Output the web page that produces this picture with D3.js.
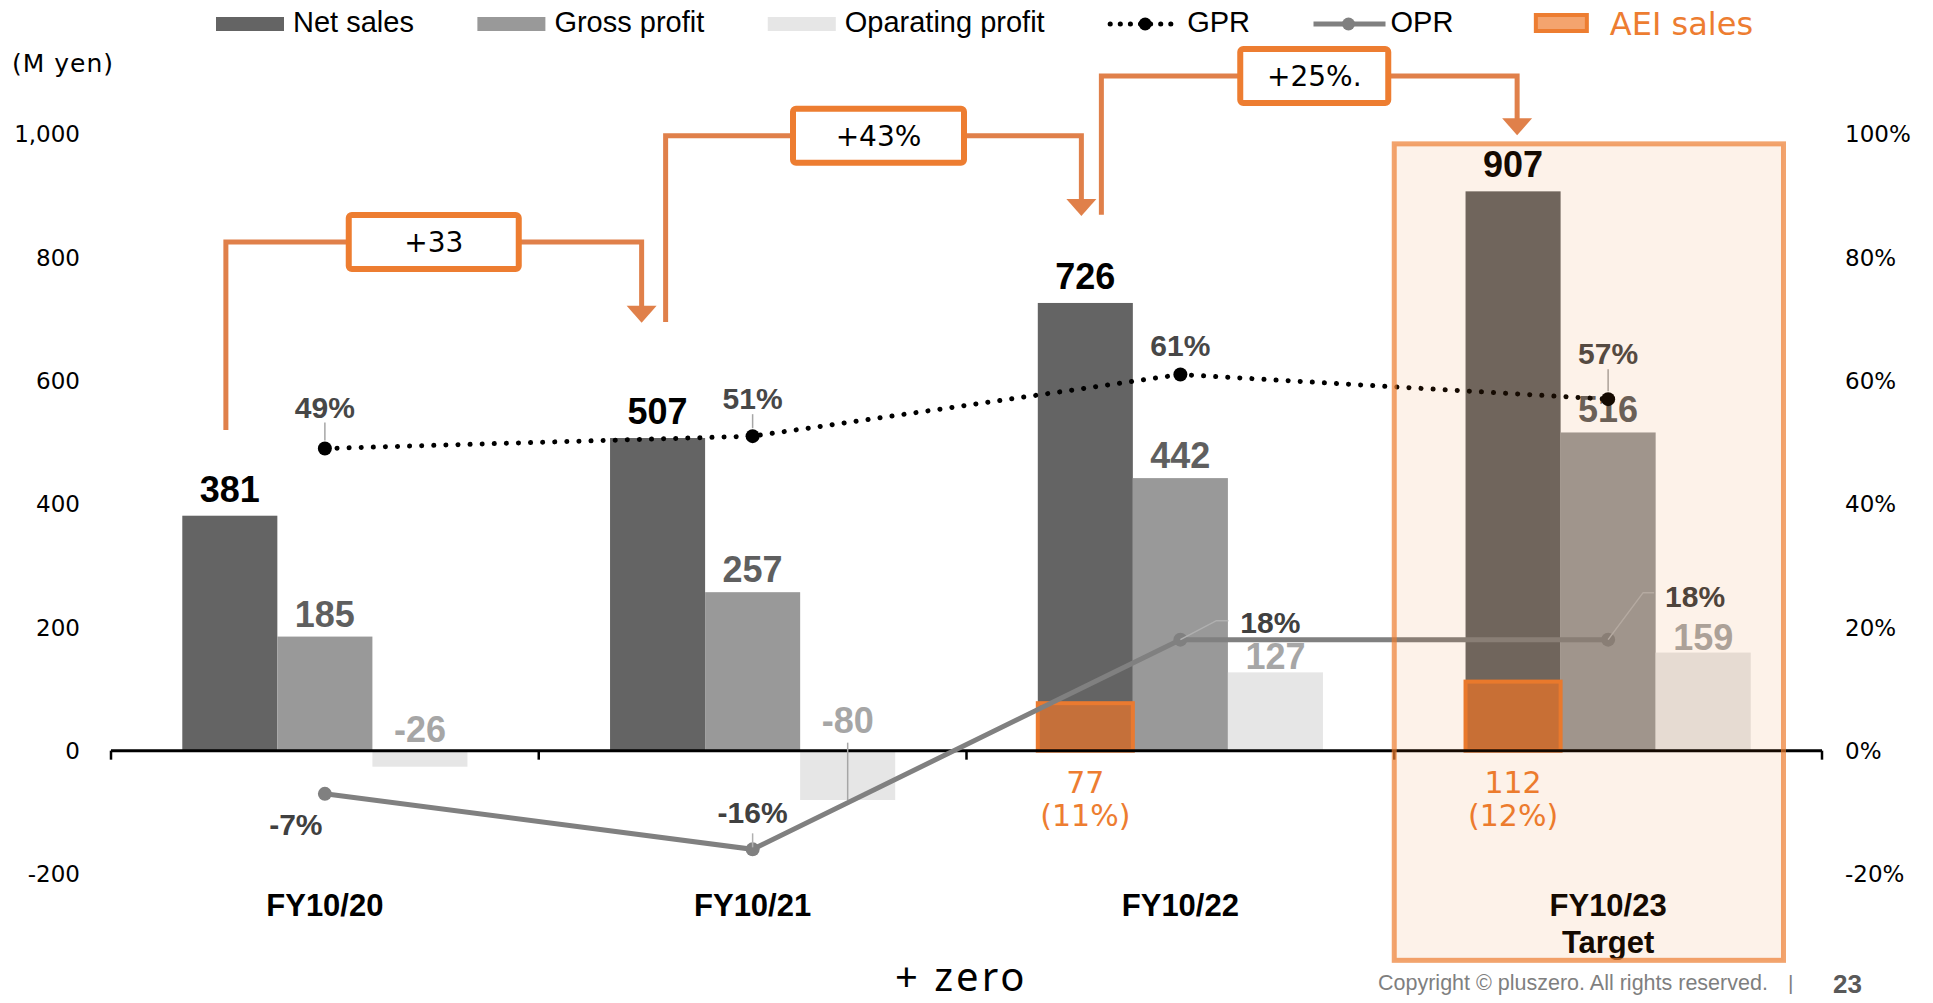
<!DOCTYPE html>
<html>
<head>
<meta charset="utf-8">
<script src="https://cdn.jsdelivr.net/npm/d3@7"></script>
<style>
	body { margin: 0; background: #fff; }
	svg { display: block; }
	text { font-family: "Liberation Sans", Arial, sans-serif; }
</style>
</head>
<body>
<div id="chart"></div>
<script>
///////////////////////////////////////////////////////////////////////////
//////////////////////////// data /////////////////////////////////////////
///////////////////////////////////////////////////////////////////////////

const categories = ["FY10/20", "FY10/21", "FY10/22", "FY10/23"];
const subLabels = ["", "", "", "Target"];
const netSales = [381, 507, 726, 907];
const grossProfit = [185, 257, 442, 516];
const opProfit = [-26, -80, 127, 159];
const gpr = [0.49, 0.51, 0.61, 0.57];
const opr = [-0.07, -0.16, 0.18, 0.18];
const aeiSales = [null, null, 77, 112];
const aeiShare = [null, null, 0.11, 0.12];
const growthLabels = ["+33", "+43%", "+25%."];
const leftTicks = [-200, 0, 200, 400, 600, 800, 1000];
const rightTicks = [-0.2, 0, 0.2, 0.4, 0.6, 0.8, 1.0];
const seriesNames = ["Net sales", "Gross profit", "Oparating profit"];

///////////////////////////////////////////////////////////////////////////
//////////////////////////// set up svg ///////////////////////////////////
///////////////////////////////////////////////////////////////////////////

const width = 1933;
const height = 1003;
const orange = "#ED7D31";
const bracketColor = "#E0804A";
const barColors = ["#646464", "#999999", "#E6E6E6"];
const labelColors = ["#000000", "#5F5F5F", "#A6A6A6"];
const fmtPct = (d) => d3.format(".0%")(d).replace("−", "-");
const fmtNum = (d) => d3.format(",")(d).replace("−", "-");

const svg = d3
	.select("#chart")
	.append("svg")
	.attr("width", width)
	.attr("height", height);

///////////////////////////////////////////////////////////////////////////
//////////////////////////// scales ///////////////////////////////////////
///////////////////////////////////////////////////////////////////////////

const xScale = d3.scaleBand().domain(categories).range([111, 1822]).padding(0);
const xInner = d3
	.scaleBand()
	.domain(seriesNames)
	.range([0, xScale.bandwidth()])
	.paddingInner(0)
	.paddingOuter(0.75);
const yScale = d3.scaleLinear().domain([-200, 1000]).range([874, 134]);
const yPct = d3.scaleLinear().domain([-0.2, 1.0]).range([874, 134]);

const cx = (c) => xScale(c) + xScale.bandwidth() / 2;
const barX = (c, s) => xScale(c) + xInner(s);
const barMid = (c, s) => barX(c, s) + xInner.bandwidth() / 2;

const rows = categories.map((c, i) => ({
	cat: c,
	sub: subLabels[i],
	values: [netSales[i], grossProfit[i], opProfit[i]],
	gpr: gpr[i],
	opr: opr[i],
	aei: aeiSales[i],
	aeiShare: aeiShare[i]
}));

///////////////////////////////////////////////////////////////////////////
//////////////////////////// axes /////////////////////////////////////////
///////////////////////////////////////////////////////////////////////////

svg
	.append("text")
	.attr("x", 12)
	.attr("y", 72)
	.style("font-family", "'DejaVu Sans', Verdana, sans-serif")
	.style("font-size", "25px")
	.style("letter-spacing", "1px")
	.attr("fill", "#000")
	.text("(M yen)");

svg
	.append("g")
	.selectAll("text")
	.data(leftTicks)
	.join("text")
	.attr("x", 80)
	.attr("y", (d) => yScale(d))
	.attr("dy", "0.36em")
	.attr("text-anchor", "end")
	.style("font-family", "'DejaVu Sans', Verdana, sans-serif")
	.style("font-size", "23px")
	.text(fmtNum);

svg
	.append("g")
	.selectAll("text")
	.data(rightTicks)
	.join("text")
	.attr("x", 1845)
	.attr("y", (d) => yPct(d))
	.attr("dy", "0.36em")
	.style("font-family", "'DejaVu Sans', Verdana, sans-serif")
	.style("font-size", "23px")
	.text(fmtPct);

///////////////////////////////////////////////////////////////////////////
//////////////////////////// bars /////////////////////////////////////////
///////////////////////////////////////////////////////////////////////////

const barData = rows.flatMap((r) =>
	r.values.map((v, k) => ({ cat: r.cat, s: seriesNames[k], k: k, v: v }))
);

svg
	.append("g")
	.selectAll("rect")
	.data(barData)
	.join("rect")
	.attr("x", (d) => barX(d.cat, d.s))
	.attr("width", xInner.bandwidth())
	.attr("y", (d) => Math.min(yScale(d.v), yScale(0)))
	.attr("height", (d) => Math.abs(yScale(d.v) - yScale(0)))
	.attr("fill", (d) => barColors[d.k]);

// AEI sales inside net sales bar
const aeiRows = rows.filter((r) => r.aei != null);
svg
	.append("g")
	.selectAll("rect")
	.data(aeiRows)
	.join("rect")
	.attr("x", (d) => barX(d.cat, seriesNames[0]))
	.attr("width", xInner.bandwidth())
	.attr("y", (d) => yScale(d.aei))
	.attr("height", (d) => yScale(0) - yScale(d.aei))
	.attr("fill", "#C5703A")
	.attr("stroke", "#EA7A30")
	.attr("stroke-width", 4);

// zero line and ticks
svg
	.append("line")
	.attr("x1", xScale.range()[0])
	.attr("x2", xScale.range()[1])
	.attr("y1", yScale(0))
	.attr("y2", yScale(0))
	.attr("stroke", "#000")
	.attr("stroke-width", 3);

const tickXs = categories.map((c) => xScale(c)).concat([xScale.range()[1]]);
svg
	.append("g")
	.selectAll("line")
	.data(tickXs)
	.join("line")
	.attr("x1", (d) => d)
	.attr("x2", (d) => d)
	.attr("y1", yScale(0))
	.attr("y2", yScale(0) + 9)
	.attr("stroke", "#000")
	.attr("stroke-width", 2.5);

///////////////////////////////////////////////////////////////////////////
//////////////////////////// bar labels ///////////////////////////////////
///////////////////////////////////////////////////////////////////////////

const labelGap = [14, 10, 3];
barData.forEach((d) => {
	const x = barMid(d.cat, d.s);
	let y = d.v >= 0 ? yScale(d.v) - labelGap[d.k] : yScale(0) - 9;
	if (d.v < -50) {
		y = yScale(0) - 18;
		svg
			.append("line")
			.attr("x1", x)
			.attr("x2", x)
			.attr("y1", y + 10)
			.attr("y2", yScale(d.v))
			.attr("stroke", "#A6A6A6")
			.attr("stroke-width", 1.5);
	}
	svg
		.append("text")
		.attr("x", x)
		.attr("y", y)
		.attr("text-anchor", "middle")
		.style("font-size", "36px")
		.style("font-weight", "bold")
		.attr("fill", labelColors[d.k])
		.text(d.v);
});

// AEI labels
aeiRows.forEach((d) => {
	const g = svg
		.append("text")
		.attr("text-anchor", "middle")
		.style("font-family", "'DejaVu Sans', Verdana, sans-serif")
		.style("font-size", "30px")
		.attr("fill", orange);
	g.append("tspan")
		.attr("x", barMid(d.cat, seriesNames[0]))
		.attr("y", yScale(0) + 42)
		.text(d.aei);
	g.append("tspan")
		.attr("x", barMid(d.cat, seriesNames[0]))
		.attr("y", yScale(0) + 75)
		.text("(" + fmtPct(d.aeiShare) + ")");
});

///////////////////////////////////////////////////////////////////////////
//////////////////////////// lines ////////////////////////////////////////
///////////////////////////////////////////////////////////////////////////

const oprLine = d3
	.line()
	.x((d) => cx(d.cat))
	.y((d) => yPct(d.opr));

svg
	.append("path")
	.datum(rows)
	.attr("d", oprLine)
	.attr("fill", "none")
	.attr("stroke", "#808080")
	.attr("stroke-width", 5);

svg
	.append("g")
	.selectAll("circle")
	.data(rows)
	.join("circle")
	.attr("cx", (d) => cx(d.cat))
	.attr("cy", (d) => yPct(d.opr))
	.attr("r", 7)
	.attr("fill", "#808080");

const gprLine = d3
	.line()
	.x((d) => cx(d.cat))
	.y((d) => yPct(d.gpr));

svg
	.append("path")
	.datum(rows)
	.attr("d", gprLine)
	.attr("fill", "none")
	.attr("stroke", "#000")
	.attr("stroke-width", 5)
	.attr("stroke-linecap", "round")
	.attr("stroke-dasharray", "0.1 12");

svg
	.append("g")
	.selectAll("circle")
	.data(rows)
	.join("circle")
	.attr("cx", (d) => cx(d.cat))
	.attr("cy", (d) => yPct(d.gpr))
	.attr("r", 7)
	.attr("fill", "#000");

// GPR labels with little leaders
const gprLabelDy = [-31, -27, -19, -35];
rows.forEach((d, i) => {
	const x = cx(d.cat);
	const y = yPct(d.gpr);
	const dy = gprLabelDy[i];
	if (dy < -24) {
		svg
			.append("line")
			.attr("x1", x)
			.attr("x2", x)
			.attr("y1", y + dy + 5)
			.attr("y2", y - 8)
			.attr("stroke", "#A6A6A6")
			.attr("stroke-width", 1.5);
	}
	svg
		.append("text")
		.attr("x", x)
		.attr("y", y + dy)
		.attr("text-anchor", "middle")
		.style("font-size", "30px")
		.style("font-weight", "bold")
		.attr("fill", "#474747")
		.text(fmtPct(d.gpr));
});

// OPR labels
const oprLabelPos = [
	{ dx: -29, dy: 41, leader: null },
	{ dx: 0, dy: -26, leader: [[0, -16], [0, -2]] },
	{ dx: 90, dy: -7, leader: [[0, 0], [36, -19], [48, -19]] },
	{ dx: 87, dy: -33, leader: [[0, 0], [35, -47], [46, -47]] }
];
rows.forEach((d, i) => {
	const x = cx(d.cat);
	const y = yPct(d.opr);
	const p = oprLabelPos[i];
	if (p.leader) {
		svg
			.append("path")
			.attr("d", d3.line()(p.leader.map((q) => [x + q[0], y + q[1]])))
			.attr("fill", "none")
			.attr("stroke", "#B0B0B0")
			.attr("stroke-width", 1.5);
	}
	svg
		.append("text")
		.attr("x", x + p.dx)
		.attr("y", y + p.dy)
		.attr("text-anchor", "middle")
		.style("font-size", "30px")
		.style("font-weight", "bold")
		.attr("fill", "#404040")
		.text(fmtPct(d.opr));
});

///////////////////////////////////////////////////////////////////////////
//////////////////////////// category labels //////////////////////////////
///////////////////////////////////////////////////////////////////////////

const catLabels = svg
	.append("g")
	.selectAll("text")
	.data(rows)
	.join("text")
	.attr("text-anchor", "middle")
	.style("font-size", "31px")
	.style("font-weight", "bold");
catLabels
	.append("tspan")
	.attr("x", (d) => cx(d.cat))
	.attr("y", yScale(-200) + 42)
	.text((d) => d.cat);
catLabels
	.append("tspan")
	.attr("x", (d) => cx(d.cat))
	.attr("y", yScale(-200) + 79)
	.text((d) => d.sub);

///////////////////////////////////////////////////////////////////////////
//////////////////////////// growth brackets //////////////////////////////
///////////////////////////////////////////////////////////////////////////

// legs in value units, x offsets from band centres
const bracketGeo = [
	{ dxL: -99, vL: 520, vTop: 825, dxR: -111, vTip: 694, boxW: 170, boxDx: 0 },
	{ dxL: -87, vL: 695, vTop: 997, dxR: -99, vTip: 867, boxW: 171, boxDx: 5 },
	{ dxL: -79, vL: 869, vTop: 1094, dxR: -91, vTip: 998, boxW: 148, boxDx: 5 }
];

growthLabels.forEach((lab, i) => {
	const g = bracketGeo[i];
	const xL = cx(categories[i]) + g.dxL;
	const xR = cx(categories[i + 1]) + g.dxR;
	const yT = yScale(g.vTop);
	const yTip = yScale(g.vTip);
	svg
		.append("path")
		.attr("d", d3.line()([[xL, yScale(g.vL)], [xL, yT], [xR, yT], [xR, yTip - 14]]))
		.attr("fill", "none")
		.attr("stroke", bracketColor)
		.attr("stroke-width", 5);
	svg
		.append("path")
		.attr("d", d3.line()([[xR - 15, yTip - 17], [xR + 15, yTip - 17], [xR, yTip]]) + "Z")
		.attr("fill", bracketColor);
	const bx = (xL + xR) / 2 + g.boxDx;
	svg
		.append("rect")
		.attr("x", bx - g.boxW / 2)
		.attr("y", yT - 27)
		.attr("width", g.boxW)
		.attr("height", 54)
		.attr("rx", 3)
		.attr("fill", "#fff")
		.attr("stroke", orange)
		.attr("stroke-width", 6);
	svg
		.append("text")
		.attr("x", bx)
		.attr("y", yT)
		.attr("dy", "0.36em")
		.attr("text-anchor", "middle")
		.style("font-family", "'DejaVu Sans', Verdana, sans-serif")
		.style("font-size", "28px")
		.attr("fill", "#000")
		.text(lab);
});

///////////////////////////////////////////////////////////////////////////
//////////////////////////// target highlight /////////////////////////////
///////////////////////////////////////////////////////////////////////////

const target = categories[3];
svg
	.append("rect")
	.attr("x", xScale(target))
	.attr("y", yScale(984))
	.attr("width", xScale.bandwidth() * 0.91)
	.attr("height", yScale(-340) - yScale(984))
	.attr("fill", "#E86A10")
	.attr("fill-opacity", 0.09)
	.attr("stroke", orange)
	.attr("stroke-opacity", 0.7)
	.attr("stroke-width", 5);

///////////////////////////////////////////////////////////////////////////
//////////////////////////// legend ///////////////////////////////////////
///////////////////////////////////////////////////////////////////////////

const legend = svg.append("g");
let lx = 216;
const legendItems = [
	{ type: "bar", name: seriesNames[0], color: barColors[0] },
	{ type: "bar", name: seriesNames[1], color: barColors[1] },
	{ type: "bar", name: seriesNames[2], color: barColors[2] },
	{ type: "gpr", name: "GPR" },
	{ type: "opr", name: "OPR" },
	{ type: "aei", name: "AEI sales" }
];
legendItems.forEach((it) => {
	if (it.type === "bar") {
		legend.append("rect").attr("x", lx).attr("y", 17).attr("width", 68).attr("height", 14).attr("fill", it.color);
		lx += 77;
	} else if (it.type === "gpr") {
		legend
			.append("line")
			.attr("x1", lx + 2).attr("x2", lx + 68).attr("y1", 24).attr("y2", 24)
			.attr("stroke", "#000").attr("stroke-width", 5)
			.attr("stroke-linecap", "round").attr("stroke-dasharray", "0.1 10");
		legend.append("circle").attr("cx", lx + 37).attr("cy", 24).attr("r", 6.5).attr("fill", "#000");
		lx += 79;
	} else if (it.type === "opr") {
		legend
			.append("line")
			.attr("x1", lx).attr("x2", lx + 72).attr("y1", 24).attr("y2", 24)
			.attr("stroke", "#808080").attr("stroke-width", 5);
		legend.append("circle").attr("cx", lx + 35).attr("cy", 24).attr("r", 6.5).attr("fill", "#808080");
		lx += 77;
	} else {
		lx += 19;
		legend
			.append("rect")
			.attr("x", lx).attr("y", 15).attr("width", 51).attr("height", 16)
			.attr("fill", "#F4A46E").attr("stroke", orange).attr("stroke-width", 4);
		lx += 74;
	}
	const t = legend
		.append("text")
		.attr("x", lx)
		.attr("y", 32)
		.style("font-size", "29px")
		.attr("fill", "#000")
		.text(it.name);
	if (it.type === "aei") {
		t.style("font-family", "'DejaVu Sans', Verdana, sans-serif").style("font-size", "32px").attr("y", 35).attr("fill", orange);
	}
	lx += t.node().getComputedTextLength() + 63.5;
});

///////////////////////////////////////////////////////////////////////////
//////////////////////////// footer ///////////////////////////////////////
///////////////////////////////////////////////////////////////////////////

svg
	.append("text")
	.attr("x", 895)
	.attr("y", 991)
	.style("font-family", "'Noto Sans', sans-serif")
	.style("font-size", "40px")
	.style("letter-spacing", "3px")
	.attr("fill", "#000")
	.text("+ zero");

svg
	.append("text")
	.attr("x", 1378)
	.attr("y", 990)
	.style("font-size", "21.5px")
	.attr("fill", "#7F7F7F")
	.text("Copyright © pluszero. All rights reserved.");

svg.append("text").attr("x", 1788).attr("y", 990).style("font-size", "21px").attr("fill", "#7F7F7F").text("|");

svg
	.append("text")
	.attr("x", 1833)
	.attr("y", 993)
	.style("font-size", "26px")
	.style("font-weight", "bold")
	.attr("fill", "#595959")
	.text("23");
</script>
</body>
</html>
